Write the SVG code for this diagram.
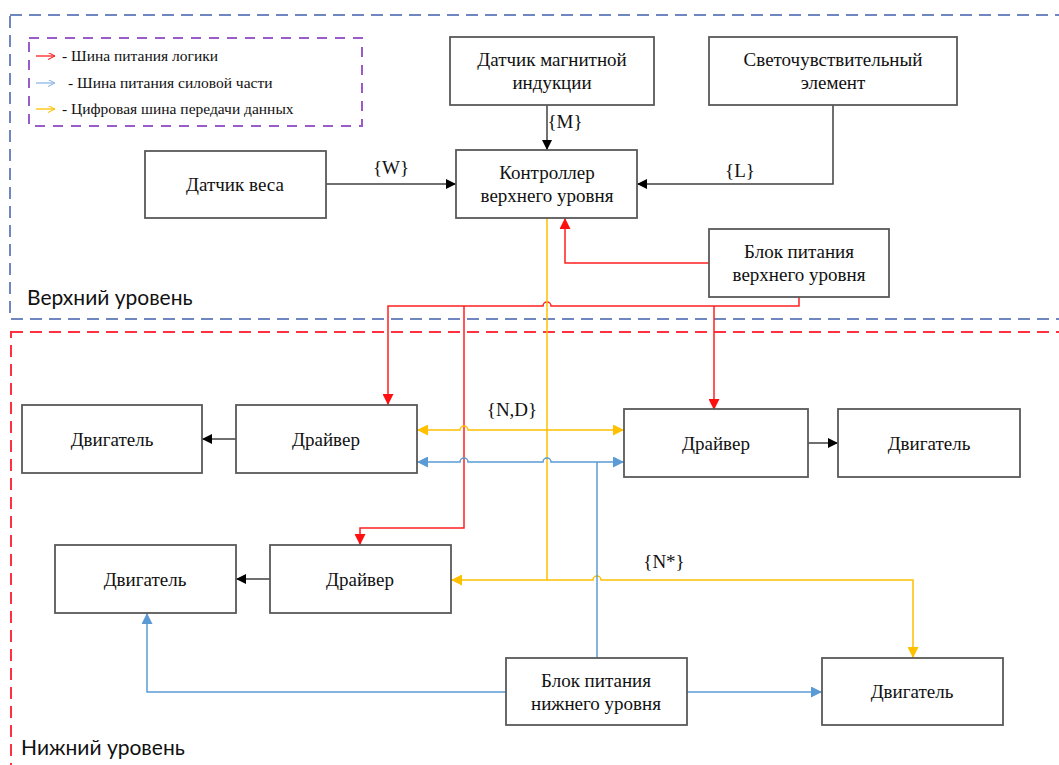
<svg xmlns="http://www.w3.org/2000/svg" width="1059" height="765" viewBox="0 0 1059 765">
<style>
.box{fill:#fff;stroke:#595959;stroke-width:1.8}
.t{font-family:"Liberation Serif","Times New Roman",serif;font-size:19px;fill:#111;text-anchor:middle}
.lg{font-family:"Liberation Serif","Times New Roman",serif;font-size:15.5px;fill:#111}
.lvl{font-family:Lato,"Liberation Sans",sans-serif;font-size:21px;fill:#111}
.c{fill:none;stroke-width:1.5}
.k{stroke:#404040}
.r{stroke:#ff2020}
.y{stroke:#ffc000}
.b{stroke:#5b9bd5}
</style>
<defs>
<marker id="ak" viewBox="0 0 10 10" refX="10" refY="5" markerWidth="10" markerHeight="10" markerUnits="userSpaceOnUse" orient="auto-start-reverse"><path d="M0,0L10,5L0,10z" fill="#000"/></marker>
<marker id="ar" viewBox="0 0 10 10" refX="10" refY="5" markerWidth="11" markerHeight="11" markerUnits="userSpaceOnUse" orient="auto-start-reverse"><path d="M0,0L10,5L0,10z" fill="#ff1010"/></marker>
<marker id="ay" viewBox="0 0 10 10" refX="10" refY="5" markerWidth="11" markerHeight="11" markerUnits="userSpaceOnUse" orient="auto-start-reverse"><path d="M0,0L10,5L0,10z" fill="#ffc000"/></marker>
<marker id="ab" viewBox="0 0 10 10" refX="10" refY="5" markerWidth="11" markerHeight="11" markerUnits="userSpaceOnUse" orient="auto-start-reverse"><path d="M0,0L10,5L0,10z" fill="#5b9bd5"/></marker>
<marker id="sr" viewBox="0 0 10 10" refX="10" refY="5" markerWidth="7" markerHeight="7" markerUnits="userSpaceOnUse" orient="auto"><path d="M0,0L10,5L0,10" fill="none" stroke="#ff2020" stroke-width="1.5"/></marker>
<marker id="sb" viewBox="0 0 10 10" refX="10" refY="5" markerWidth="7" markerHeight="7" markerUnits="userSpaceOnUse" orient="auto"><path d="M0,0L10,5L0,10" fill="none" stroke="#8fb8e6" stroke-width="1.5"/></marker>
<marker id="sy" viewBox="0 0 10 10" refX="10" refY="5" markerWidth="7" markerHeight="7" markerUnits="userSpaceOnUse" orient="auto"><path d="M0,0L10,5L0,10" fill="none" stroke="#ffc000" stroke-width="1.5"/></marker>
</defs>

<g id="frames">
<rect x="10" y="15" width="1080" height="304" fill="none" stroke="#6f86c0" stroke-width="2" stroke-dasharray="12,7"/>
<rect x="11" y="332" width="1080" height="500" fill="none" stroke="#ff3040" stroke-width="2" stroke-dasharray="12,7"/>
<text class="lvl" x="27" y="305">Верхний уровень</text>
<text class="lvl" x="21" y="755">Нижний уровень</text>
</g>

<g id="legend">
<rect x="29" y="38" width="333" height="88" fill="none" stroke="#9a5cc8" stroke-width="2" stroke-dasharray="10,8"/>
<line x1="36" y1="56" x2="55" y2="56" stroke="#ff2020" stroke-width="1.3" marker-end="url(#sr)"/>
<text class="lg" x="62" y="61">- Шина питания логики</text>
<line x1="36" y1="83" x2="55" y2="83" stroke="#8fb8e6" stroke-width="1.3" marker-end="url(#sb)"/>
<text class="lg" x="68" y="88">- Шина питания силовой части</text>
<line x1="36" y1="109" x2="55" y2="109" stroke="#ffc000" stroke-width="1.3" marker-end="url(#sy)"/>
<text class="lg" x="62" y="114">- Цифровая шина передачи данных</text>
</g>

<g id="connectors">
<path class="c k" d="M547,105V150" marker-end="url(#ak)"/>
<path class="c k" d="M326,184H456" marker-end="url(#ak)"/>
<path class="c k" d="M833,105V184H637" marker-end="url(#ak)"/>
<path class="c k" d="M236,439H202" marker-end="url(#ak)"/>
<path class="c k" d="M808,443H838" marker-end="url(#ak)"/>
<path class="c k" d="M270,579H236" marker-end="url(#ak)"/>
<path class="c r" d="M709,263H565V218" marker-end="url(#ar)"/>
<path class="c r" d="M799,297V306H551A4,4 0 0 0 543,306H388V405" marker-end="url(#ar)"/>
<path class="c r" d="M714,306V410" marker-end="url(#ar)"/>
<path class="c r" d="M464,306V528H360V545" marker-end="url(#ar)"/>
<path class="c y" d="M547,218V580H451" marker-end="url(#ay)"/>
<path class="c y" d="M547,580H593A4,4 0 0 1 601,580H913V658" marker-end="url(#ay)"/>
<path class="c y" d="M417,430H460A4,4 0 0 1 468,430H624" marker-start="url(#ay)" marker-end="url(#ay)"/>
<path class="c b" d="M417,462H460A4,4 0 0 1 468,462H543A4,4 0 0 1 551,462H624" marker-start="url(#ab)" marker-end="url(#ab)"/>
<path class="c b" d="M597,658V462"/>
<path class="c b" d="M506,692H147V613" marker-end="url(#ab)"/>
<path class="c b" d="M687,692H822" marker-end="url(#ab)"/>
<text class="t" x="565" y="128">{M}</text>
<text class="t" x="391" y="174">{W}</text>
<text class="t" x="740" y="177">{L}</text>
<text class="t" x="512" y="416">{N,D}</text>
<text class="t" x="664" y="568">{N*}</text>
</g>

<g id="n_mag"><rect class="box" x="450" y="37" width="204" height="68"/><text class="t" x="552" y="66">Датчик магнитной</text><text class="t" x="552" y="89">индукции</text></g>
<g id="n_light"><rect class="box" x="709" y="37" width="248" height="68"/><text class="t" x="833" y="66">Светочувствительный</text><text class="t" x="833" y="89">элемент</text></g>
<g id="n_weight"><rect class="box" x="145" y="151" width="181" height="67"/><text class="t" x="235" y="191">Датчик веса</text></g>
<g id="n_ctrl"><rect class="box" x="456" y="150" width="181" height="68"/><text class="t" x="547" y="179">Контроллер</text><text class="t" x="547" y="202">верхнего уровня</text></g>
<g id="n_psu_top"><rect class="box" x="709" y="229" width="180" height="68"/><text class="t" x="799" y="258">Блок питания</text><text class="t" x="799" y="281">верхнего уровня</text></g>
<g id="n_motor1"><rect class="box" x="22" y="405" width="180" height="68"/><text class="t" x="112" y="446">Двигатель</text></g>
<g id="n_drv1"><rect class="box" x="236" y="405" width="181" height="68"/><text class="t" x="326" y="446">Драйвер</text></g>
<g id="n_drv2"><rect class="box" x="624" y="409" width="184" height="68"/><text class="t" x="716" y="450">Драйвер</text></g>
<g id="n_motor2"><rect class="box" x="838" y="409" width="182" height="68"/><text class="t" x="929" y="450">Двигатель</text></g>
<g id="n_motor3"><rect class="box" x="55" y="545" width="181" height="68"/><text class="t" x="145" y="586">Двигатель</text></g>
<g id="n_drv3"><rect class="box" x="270" y="545" width="181" height="68"/><text class="t" x="360" y="586">Драйвер</text></g>
<g id="n_psu_bot"><rect class="box" x="506" y="658" width="181" height="67"/><text class="t" x="596" y="687">Блок питания</text><text class="t" x="596" y="710">нижнего уровня</text></g>
<g id="n_motor4"><rect class="box" x="822" y="658" width="181" height="67"/><text class="t" x="912" y="698">Двигатель</text></g>
</svg>
